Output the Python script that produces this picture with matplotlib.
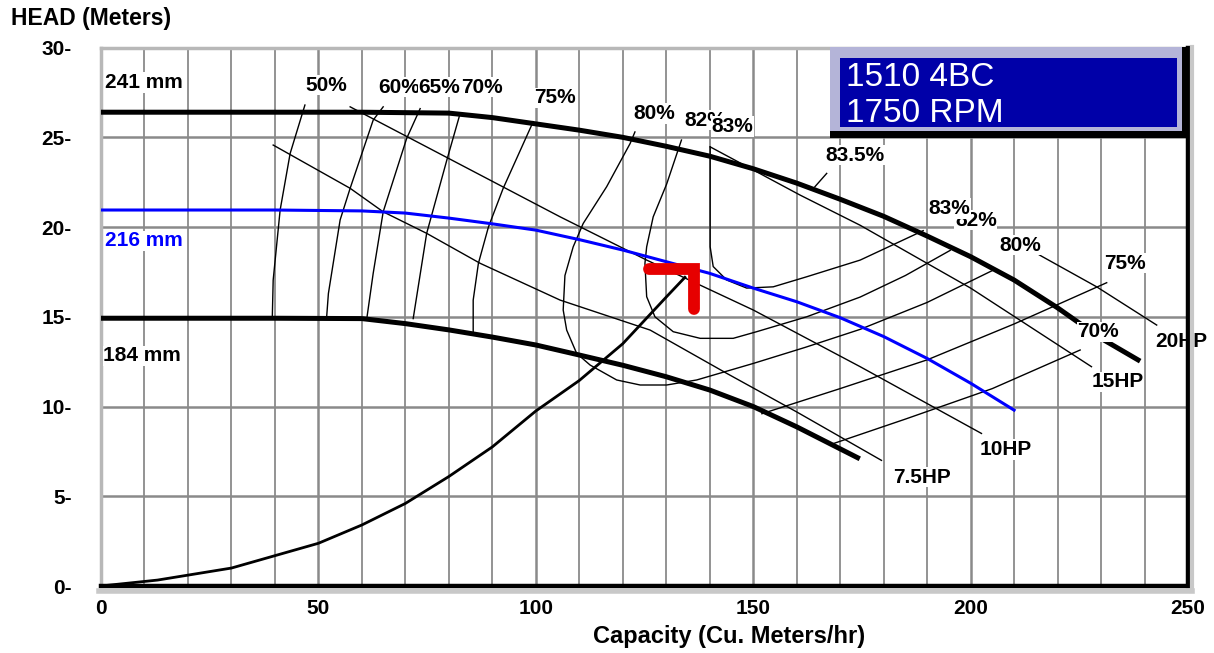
import matplotlib
matplotlib.use("Agg")
import matplotlib.pyplot as plt
from matplotlib.patches import Rectangle
from matplotlib.lines import Line2D

# ---- data (Q in m3/h, H in m) ----
imp_241_q = [0, 20, 40, 60, 80, 90, 100, 110, 120, 130, 140, 150, 160, 170, 180,
             190, 200, 210, 220, 230, 238.5]
imp_241_h = [26.4, 26.4, 26.4, 26.4, 26.35, 26.1, 25.75, 25.4, 25.0, 24.5, 23.95,
             23.25, 22.45, 21.55, 20.6, 19.5, 18.35, 17.05, 15.5, 13.8, 12.6]

imp_216_q = [0, 20, 40, 60, 70, 80, 90, 100, 110, 120, 130, 140, 150, 160, 170,
             180, 190, 200, 210]
imp_216_h = [20.95, 20.95, 20.95, 20.9, 20.78, 20.5, 20.18, 19.83, 19.3, 18.72,
             18.07, 17.42, 16.6, 15.84, 14.95, 13.9, 12.68, 11.3, 9.8]

imp_184_q = [0, 20, 40, 60, 70, 80, 90, 100, 110, 120, 130, 140, 150, 160, 174]
imp_184_h = [14.92, 14.92, 14.92, 14.9, 14.62, 14.27, 13.87, 13.43, 12.87, 12.3,
             11.66, 10.92, 10.0, 8.87, 7.15]

system_q = [0, 13, 30, 50, 60, 70, 80, 90, 100, 110, 120, 130, 134.3]
system_h = [0, 0.33, 1.0, 2.38, 3.4, 4.6, 6.1, 7.75, 9.75, 11.45, 13.5, 16.1, 17.2]

duty_q = [126.0, 136.4, 136.4]
duty_h = [17.66, 17.66, 15.43]

# iso-efficiency lines
eff_lines = {
    "50": ([46.9, 43.5, 41.2, 39.6, 39.4], [26.8, 24.1, 20.95, 17.05, 15.0]),
    "60": ([64.9, 62.6, 57.3, 55.0, 52.3, 51.9], [26.7, 25.96, 22.16, 20.4, 16.3, 15.0]),
    "65": ([73.4, 70.3, 64.9, 62.6, 61.1], [26.6, 24.94, 20.85, 17.42, 14.85]),
    "70": ([82.6, 79.5, 74.9, 71.8], [26.33, 23.7, 19.65, 14.9]),
    "75": ([99.4, 92.5, 89.1, 86.8, 85.6, 85.6], [25.87, 22.16, 20.0, 17.98, 15.93, 14.08]),
    "80": ([122.8, 121.7, 116.3, 110.9, 108.6, 106.7, 106.3, 107.1, 109.4, 112.5,
            118.6, 124, 130.1, 137, 150, 162, 174.6, 190, 205.2],
           [25.3, 24.66, 22.25, 20.2, 18.9, 17.3, 15.38, 14.26, 12.96, 12.31,
            11.48, 11.2, 11.2, 11.48, 12.4, 13.3, 14.3, 15.8, 17.6]),
    "82": ([133.5, 130.1, 127, 125.5, 125.1, 125.5, 127.4, 131.6, 137.8, 145.4,
            150.8, 162.3, 174.6, 185, 195.3],
           [24.85, 22.4, 20.57, 18.9, 17.98, 16.12, 15.0, 14.17, 13.8, 13.8,
            14.17, 15.0, 16.1, 17.3, 18.7]),
    "83": ([140.1, 140.1, 140.8, 143.9, 148.5, 154.6, 162.3, 174.6, 189.1],
           [24.47, 18.9, 17.8, 17.05, 16.6, 16.67, 17.23, 18.16, 19.8]),
    "83.5": ([166.9, 164.2], [22.99, 22.25]),
    "75r": ([152, 170, 190, 210, 231.3], [9.6, 11.0, 12.6, 14.6, 16.9]),
    "70r": ([168, 185, 205, 225.2], [7.9, 9.3, 11.0, 13.15]),
}

# constant-power lines
hp_lines = {
    "7.5HP": ([39.6, 57.3, 64.9, 74.9, 87.2, 105.6, 126.3, 143.9, 160, 179.5],
              [24.57, 22.16, 20.85, 19.65, 17.98, 15.93, 14.26, 11.85, 9.7, 7.0]),
    "10HP": ([57.3, 105.6, 125.5, 150, 174.6, 202.5], [26.7, 20.57, 18.16, 15.38, 12.22, 8.5]),
    "15HP": ([140.1, 160.8, 174.6, 200, 227.8], [24.47, 21.78, 20.1, 16.6, 12.22]),
    "20HP": ([212.0, 216.3, 229.0, 242.8], [19.0, 18.38, 16.67, 14.54]),
}

# text annotations: (text, q, h, colour, alignment)
labels = [
    ("241 mm", 0.9, 28.05, "black", "left"),
    ("216 mm", 0.9, 19.23, "#0000ff", "left"),
    ("184 mm", 0.5, 12.82, "black", "left"),
    ("50%", 51.7, 27.9, "black", "center"),
    ("60%", 68.6, 27.8, "black", "center"),
    ("65%", 77.8, 27.8, "black", "center"),
    ("70%", 87.6, 27.8, "black", "center"),
    ("75%", 104.4, 27.2, "black", "center"),
    ("80%", 127.2, 26.33, "black", "center"),
    ("82%", 139.0, 25.96, "black", "center"),
    ("83%", 145.2, 25.6, "black", "center"),
    ("83.5%", 173.4, 24.0, "black", "center"),
    ("82%", 201.2, 20.39, "black", "center"),
    ("83%", 195.1, 21.04, "black", "center"),
    ("80%", 211.4, 19.0, "black", "center"),
    ("75%", 235.5, 17.98, "black", "center"),
    ("70%", 229.4, 14.17, "black", "center"),
    ("20HP", 248.5, 13.6, "black", "center"),
    ("15HP", 233.8, 11.38, "black", "center"),
    ("10HP", 208.0, 7.6, "black", "center"),
    ("7.5HP", 188.8, 6.07, "black", "center"),
]

x_ticks = [0, 50, 100, 150, 200, 250]
y_ticks = [0, 5, 10, 15, 20, 25, 30]

FONT = ["Liberation Sans", "DejaVu Sans"]
plt.rcParams["font.family"] = FONT

fig = plt.figure(figsize=(12.14, 6.53), dpi=100)
ax = fig.add_axes([101 / 1214, 67 / 653, 1087 / 1214, 538.4 / 653])
ax.set_xlim(0, 250)
ax.set_ylim(0, 30)

# grid
for q in range(10, 250, 10):
    ax.axvline(q, color="#8a8a8a", lw=1.8 if q % 50 == 0 else 1.3, zorder=1)
for h in range(5, 30, 5):
    ax.axhline(h, color="#8a8a8a", lw=1.8, zorder=1)

thin = dict(color="black", lw=1.0, zorder=3)
for xs, ys in eff_lines.values():
    ax.plot(xs, ys, **thin)
for xs, ys in hp_lines.values():
    ax.plot(xs, ys, **thin)

ax.plot(imp_241_q, imp_241_h, color="black", lw=3.6, zorder=4)
ax.plot(imp_216_q, imp_216_h, color="#0000ff", lw=2.2, zorder=4)
ax.plot(imp_184_q, imp_184_h, color="black", lw=3.6, zorder=4)
ax.plot(system_q, system_h, color="black", lw=2.0, zorder=4)
ax.plot(duty_q, duty_h, color="#e60000", lw=8.5, solid_capstyle="round",
        solid_joinstyle="miter", zorder=5)

for text, q, h, col, ha in labels:
    ax.text(q, h, text, color=col, ha=ha, va="center", fontsize=15,
            fontweight="bold", zorder=6, clip_on=False,
            bbox=dict(facecolor="white", edgecolor="none", pad=0.5))

# model box
ax.add_patch(Rectangle((167.7, 24.94), 82.3, 5.1, facecolor="black",
                       edgecolor="none", zorder=7, clip_on=False))
ax.add_patch(Rectangle((167.7, 25.35), 80.9, 4.7, facecolor="#b4b4d8",
                       edgecolor="none", zorder=7, clip_on=False))
ax.add_patch(Rectangle((170.0, 25.59), 77.4, 3.81, facecolor="#0000a8",
                       edgecolor="none", zorder=8, clip_on=False))
ax.text(171.3, 27.85, "1510 4BC", color="white", fontsize=24, va="baseline",
        ha="left", zorder=9)
ax.text(171.3, 25.85, "1750 RPM", color="white", fontsize=24, va="baseline",
        ha="left", zorder=9)

# axes styling
ax.set_xticks(x_ticks)
ax.set_xticklabels([str(v) for v in x_ticks], fontsize=15, fontweight="bold")
ax.set_yticks(y_ticks)
ax.set_yticklabels([f"{v}-" for v in y_ticks], fontsize=15, fontweight="bold")
ax.tick_params(axis="x", length=0, pad=9)
ax.tick_params(axis="y", length=0, pad=21)
for side in ("left", "top"):
    ax.spines[side].set_color("#b8b8b8")
    ax.spines[side].set_linewidth(2.5)
for side in ("bottom", "right"):
    ax.spines[side].set_color("black")
    ax.spines[side].set_linewidth(3.2)
    ax.spines[side].set_zorder(10)

# grey shadow outside bottom/right edges
fig.add_artist(Line2D([99 / 1214, 1192 / 1214], [62 / 653, 62 / 653],
                      color="#c8c8c8", lw=4))
fig.add_artist(Line2D([1192 / 1214, 1192 / 1214], [62 / 653, 606 / 653],
                      color="#c8c8c8", lw=3))

fig.text(11 / 1214, 1 - 18 / 653, "HEAD (Meters)", fontsize=16.5,
         fontweight="bold", va="center", ha="left")
fig.text(729 / 1214, 1 - 637 / 653, "Capacity (Cu. Meters/hr)", fontsize=17,
         fontweight="bold", va="center", ha="center")

fig.savefig("out.png", dpi=100)
